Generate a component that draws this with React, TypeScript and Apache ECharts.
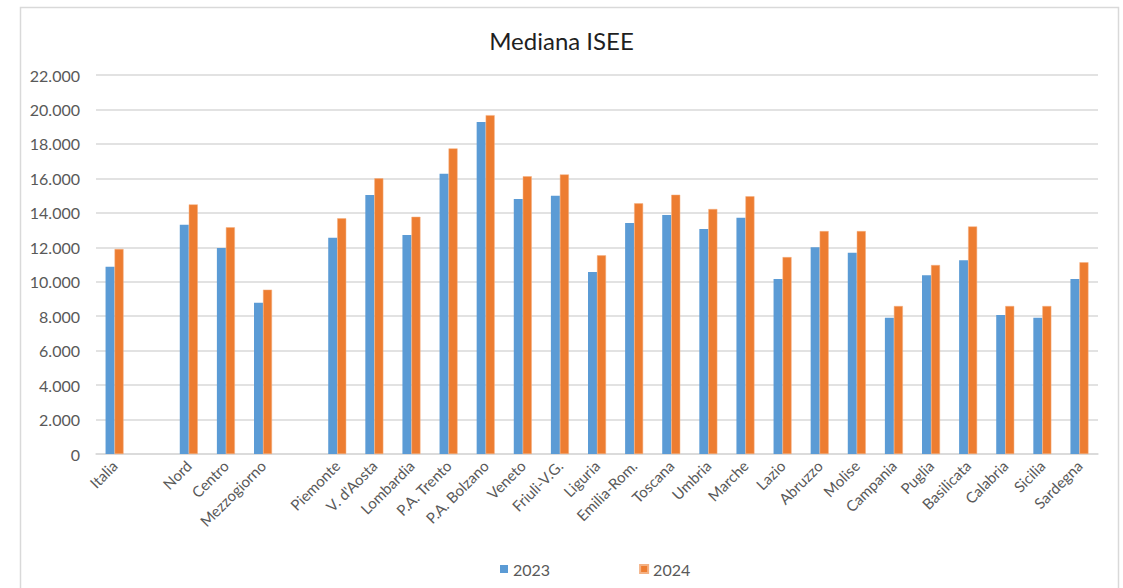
import React, { useEffect, useRef } from "react";
import * as echarts from "echarts";

const categories: string[] = [
  "Italia", "", "Nord", "Centro", "Mezzogiorno", "",
  "Piemonte", "V. d'Aosta", "Lombardia", "P.A. Trento", "P.A. Bolzano",
  "Veneto", "Friuli-V.G.", "Liguria", "Emilia-Rom.", "Toscana", "Umbria",
  "Marche", "Lazio", "Abruzzo", "Molise", "Campania", "Puglia",
  "Basilicata", "Calabria", "Sicilia", "Sardegna",
];

const values2023: (number | null)[] = [
  10870, null, 13310, 11960, 8780, null,
  12550, 15030, 12710, 16270, 19270,
  14800, 14990, 10560, 13410, 13870, 13060,
  13710, 10160, 12000, 11680, 7910, 10370,
  11240, 8070, 7910, 10160,
];

const values2024: (number | null)[] = [
  11900, null, 14490, 13160, 9540, null,
  13680, 16000, 13770, 17740, 19670,
  16120, 16230, 11530, 14550, 15050, 14220,
  14960, 11430, 12940, 12940, 8590, 10970,
  13210, 8590, 8590, 11130,
];

const seriesNames: string[] = ["2023", "2024"];
const yTicks = { min: 0, max: 22000, interval: 2000 };

const fmt = (v: number) => String(v).replace(/\B(?=(\d{3})+(?!\d))/g, ".");

const FONT = "Lato, 'Liberation Sans', sans-serif";

export default function App() {
  const ref = useRef<HTMLDivElement>(null);
  useEffect(() => {
    if (!ref.current) return;
    const chart = echarts.init(ref.current, null, { renderer: "svg" });
    chart.setOption({
      animation: false,
      backgroundColor: "#ffffff",
      textStyle: { fontFamily: FONT },
      title: {
        text: "Mediana ISEE",
        left: "center",
        top: 23,
        textStyle: { fontFamily: FONT, fontSize: 24, fontWeight: "normal", color: "#1f1f1f" },
      },
      graphic: [
        {
          type: "rect",
          shape: { x: 20.5, y: 7.5, width: 1098, height: 620 },
          style: { fill: "none", stroke: "#d9d9d9", lineWidth: 1.5 },
          silent: true,
        },
      ],
      legend: {
        data: seriesNames,
        left: 495,
        top: 556,
        itemWidth: 8,
        itemHeight: 8,
        itemGap: 89,
        icon: "rect",
        textStyle: { fontFamily: FONT, fontSize: 16, color: "#595959" },
      },
      grid: { left: 96, right: 25, top: 75, bottom: 134, containLabel: false },
      xAxis: {
        type: "category",
        data: categories,
        axisLine: { lineStyle: { color: "#d9d9d9", width: 1.5 } },
        axisTick: { show: false },
        axisLabel: {
          interval: 0,
          rotate: 45,
          margin: 9,
          fontFamily: FONT,
          fontSize: 15,
          color: "#595959",
        },
      },
      yAxis: {
        type: "value",
        min: yTicks.min,
        max: yTicks.max,
        interval: yTicks.interval,
        axisLine: { show: false },
        axisTick: { show: false },
        splitLine: { lineStyle: { color: "#d9d9d9", width: 1.5 } },
        axisLabel: {
          margin: 16,
          fontFamily: FONT,
          fontSize: 16,
          color: "#595959",
          formatter: (v: number) => fmt(v),
        },
      },
      series: [
        {
          name: seriesNames[0],
          type: "bar",
          data: values2023,
          barWidth: 9,
          barGap: "0%",
          itemStyle: { color: "#5b9bd5" },
        },
        {
          name: seriesNames[1],
          type: "bar",
          data: values2024,
          barWidth: 9,
          barGap: "0%",
          itemStyle: { color: "#ed7d31", borderColor: "#f4b183", borderWidth: 0.5 },
        },
      ],
    });
    return () => chart.dispose();
  }, []);
  return (
    <div
      ref={ref}
      style={{ position: "fixed", left: 0, top: 0, width: 1123, height: 588 }}
    />
  );
}
